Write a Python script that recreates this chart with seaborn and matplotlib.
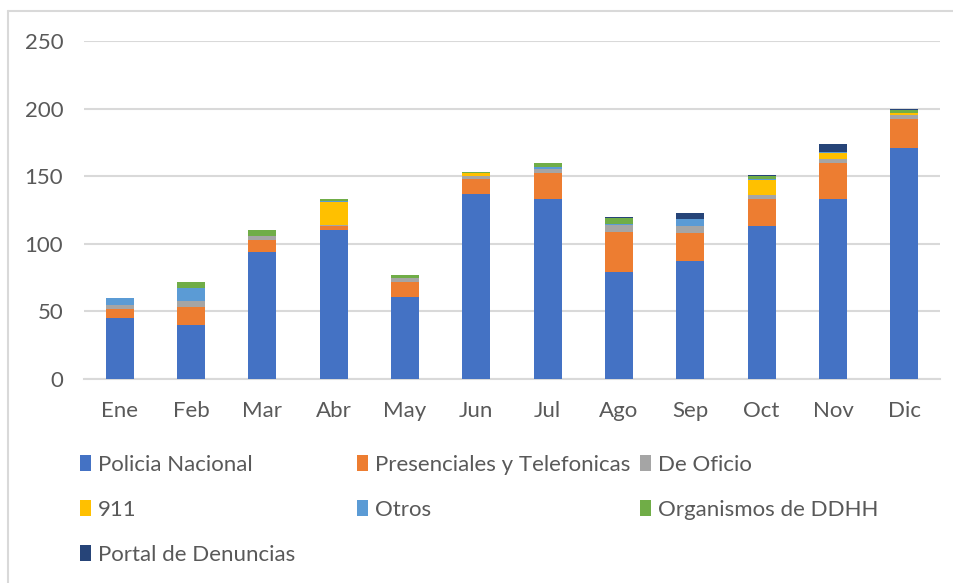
import matplotlib
matplotlib.use("Agg")
from matplotlib import pyplot as plt
from matplotlib.patches import Patch
from matplotlib.lines import Line2D
import seaborn as sns
import numpy as np

meses = ["Ene", "Feb", "Mar", "Abr", "May", "Jun", "Jul", "Ago", "Sep", "Oct", "Nov", "Dic"]

policia = [45, 40, 94, 110, 61, 137, 133, 79, 87, 113, 133, 171]
presenciales = [7, 13, 9, 3, 11, 11, 19, 30, 21, 20, 27, 21]
oficio = [3, 5, 3, 1, 3, 2, 3, 5, 5, 3, 3, 3]
emergencias_911 = [0, 0, 0, 17, 0, 2, 0, 0, 0, 11, 4, 2]
otros = [5, 9, 0, 1, 0, 0, 2, 1, 5, 1, 1, 0]
organismos = [0, 5, 4, 1, 2, 1, 3, 4, 0, 2, 0, 2]
portal = [0, 0, 0, 0, 0, 0, 0, 1, 5, 1, 6, 1]

series = [
    ("Policia Nacional", policia, "#4472C4"),
    ("Presenciales y Telefonicas", presenciales, "#ED7D31"),
    ("De Oficio", oficio, "#A5A5A5"),
    ("911", emergencias_911, "#FFC000"),
    ("Otros", otros, "#5B9BD5"),
    ("Organismos de DDHH", organismos, "#70AD47"),
    ("Portal de Denuncias", portal, "#264478"),
]

sns.set_style("white")
plt.rcParams['font.family'] = ['Lato', 'DejaVu Sans']

fig = plt.figure(figsize=(9.54, 5.83), dpi=100)
# axes placed to match the reference pixel box
ax = fig.add_axes([84 / 954, 1 - 379 / 583, 856 / 954, 338 / 583])

bottom = np.zeros(len(meses))
for name, vals, col in series:
    sns.barplot(x=meses, y=vals, bottom=bottom, color=col, width=0.39,
                errorbar=None, ax=ax, saturation=1, linewidth=0, zorder=3)
    bottom = bottom + np.array(vals)

ax.set_ylim(0, 250)
ax.set_xlim(-0.5, len(meses) - 0.5)
ax.set_yticks([0, 50, 100, 150, 200, 250])
ax.yaxis.grid(True, color="#D9D9D9", linewidth=1.5, zorder=0)
ax.set_axisbelow(True)
for s in ["top", "right", "left"]:
    ax.spines[s].set_visible(False)
ax.spines["bottom"].set_color("#D9D9D9")
ax.spines["bottom"].set_linewidth(1.5)
ax.tick_params(axis="y", length=0, pad=15, labelsize=16, labelcolor="#595959")
ax.tick_params(axis="x", length=0, pad=16, labelsize=16, labelcolor="#595959")
ax.set_xlabel("")
ax.set_ylabel("")

# legend laid out in three columns like the spreadsheet one
columnas = [
    (80, [0, 3, 6]),
    (357, [1, 4]),
    (640, [2, 5]),
]
for x0, idx in columnas:
    handles = [Patch(facecolor=series[i][2], edgecolor="none") for i in idx]
    labels = [series[i][0] for i in idx]
    fig.legend(handles, labels, loc="upper left",
               bbox_to_anchor=(x0 / 954, 1 - 455 / 583),
               bbox_transform=fig.transFigure, frameon=False, fontsize=16,
               handlelength=0.5, handleheight=0.7, handletextpad=0.3,
               borderpad=0, borderaxespad=0, labelspacing=1.12,
               labelcolor="#595959")

# chart area border (partly cropped in the reference)
borde = "#D9D9D9"
fig.add_artist(Line2D([8 / 954, 8 / 954], [0, 1 - 11 / 583], transform=fig.transFigure,
                      color=borde, linewidth=1.5))
fig.add_artist(Line2D([8 / 954, 1], [1 - 11 / 583, 1 - 11 / 583], transform=fig.transFigure,
                      color=borde, linewidth=1.5))

fig.savefig("out.png", dpi=100)
